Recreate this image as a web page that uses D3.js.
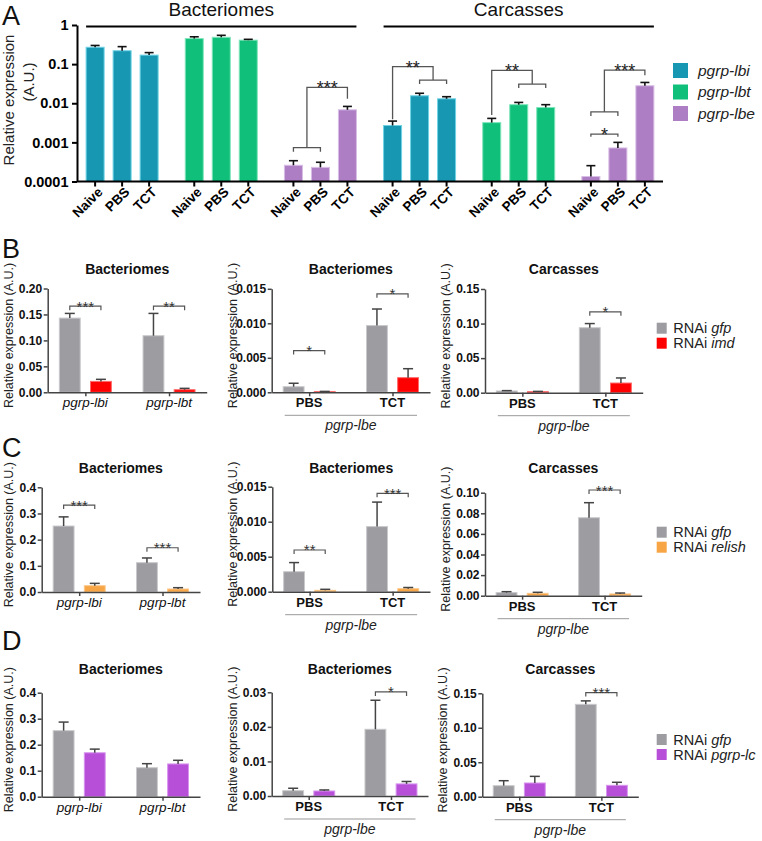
<!DOCTYPE html>
<html><head><meta charset="utf-8">
<script src="https://cdn.jsdelivr.net/npm/d3@7"></script>
<style>
body{margin:0;background:#fff;}
svg{display:block;}
text{font-family:"Liberation Sans",Arial,Helvetica,sans-serif;}
</style>
</head><body>
<svg id="chart" width="762" height="841"></svg>
<script>
// ================= DATA =================
// Panel A
const aTissues = ["Bacteriomes", "Carcasses"];
const aGenes = ["pgrp-lbi", "pgrp-lbt", "pgrp-lbe"];
const aTreatments = ["Naive", "PBS", "TCT"];
const aTicks = [1, 0.1, 0.01, 0.001, 0.0001];
const aTickLabels = ["1", "0.1", "0.01", "0.001", "0.0001"];
const aBactMean = [[0.27, 0.22, 0.17], [0.45, 0.485, 0.41], [0.00026, 0.00023, 0.0068]];
const aBactErr  = [[0.03, 0.06, 0.027], [0.05, 0.06, 0.02], [0.00008, 0.00008, 0.0015]];
const aCarcMean = [[0.0027, 0.0155, 0.013], [0.0032, 0.0092, 0.0078], [0.000134, 0.00072, 0.028]];
const aCarcErr  = [[0.0008, 0.0025, 0.0017], [0.0009, 0.0013, 0.0014], [0.00012, 0.00028, 0.006]];
const aBrackets = [
  {tissue: "Bacteriomes", gene: "pgrp-lbe", left: ["Naive", "PBS"], right: ["TCT"], top: 0.0255, lBot: 0.00073, rBot: 0.013, label: "***"},
  {tissue: "Carcasses", gene: "pgrp-lbi", left: ["Naive"], right: ["PBS", "TCT"], top: 0.086, lBot: 0.0039, rBot: 0.039, label: "**"},
  {tissue: "Carcasses", gene: "pgrp-lbt", left: ["Naive"], right: ["PBS", "TCT"], top: 0.0695, lBot: 0.005, rBot: 0.031, label: "**"},
  {tissue: "Carcasses", gene: "pgrp-lbe", left: ["Naive", "PBS"], right: ["TCT"], top: 0.0706, lBot: 0.006, rBot: 0.052, label: "***"},
  {tissue: "Carcasses", gene: "pgrp-lbe", left: ["Naive"], right: ["PBS"], top: 0.00163, lBot: 0.00139, rBot: 0.00139, label: "*"}
];

// Panels B-D (three sub-panels per row)
const panelTitles = ["Bacteriomes", "Bacteriomes", "Carcasses"];
const panelGroups = [["pgrp-lbi", "pgrp-lbt"], ["PBS", "TCT"], ["PBS", "TCT"]];
const panelSubLabel = [null, "pgrp-lbe", "pgrp-lbe"];
const seriesKeys = ["gfp", "kd"];
const rowLetters = ["B", "C", "D"];
const rowKnockdown = ["imd", "relish", "pgrp-lc"];

const rowBGfp    = [[0.143, 0.109], [0.00081, 0.00967], [0.0025, 0.094]];
const rowBGfpErr = [[0.009, 0.043], [0.0005, 0.0024], [0.0005, 0.006]];
const rowBKd     = [[0.021, 0.005], [0.0001, 0.00212], [0.0015, 0.014]];
const rowBKdErr  = [[0.004, 0.0026], [0.00003, 0.0013], [0.0004, 0.0073]];
const rowBYMax   = [0.20, 0.015, 0.15];
const rowBYStep  = [0.05, 0.005, 0.05];
const rowBDec    = [2, 3, 2];
const rowBSig    = [[{g: "pgrp-lbi", y: 0.166, label: "***"}, {g: "pgrp-lbt", y: 0.166, label: "**"}],
                    [{g: "PBS", y: 0.00604, label: "*"}, {g: "TCT", y: 0.01427, label: "*"}],
                    [{g: "TCT", y: 0.117, label: "*"}]];

const rowCGfp    = [[0.252, 0.112], [0.00286, 0.0093], [0.003, 0.0757]];
const rowCGfpErr = [[0.035, 0.018], [0.0013, 0.0035], [0.0009, 0.0146]];
const rowCKd     = [[0.024, 0.0115], [0.0002, 0.00043], [0.0023, 0.0017]];
const rowCKdErr  = [[0.009, 0.005], [0.00014, 0.00017], [0.001, 0.0009]];
const rowCYMax   = [0.4, 0.015, 0.10];
const rowCYStep  = [0.1, 0.005, 0.02];
const rowCDec    = [1, 3, 2];
const rowCSig    = [[{g: "pgrp-lbi", y: 0.332, label: "***"}, {g: "pgrp-lbt", y: 0.169, label: "***"}],
                    [{g: "PBS", y: 0.00596, label: "**"}, {g: "TCT", y: 0.01406, label: "***"}],
                    [{g: "TCT", y: 0.1026, label: "***"}]];

const rowDGfp    = [[0.254, 0.1115], [0.00154, 0.0193], [0.016, 0.134]];
const rowDGfpErr = [[0.033, 0.0155], [0.0007, 0.0084], [0.0072, 0.005]];
const rowDKd     = [[0.169, 0.126], [0.00145, 0.0035], [0.0199, 0.0165]];
const rowDKdErr  = [[0.014, 0.014], [0.0003, 0.0007], [0.0096, 0.0044]];
const rowDYMax   = [0.4, 0.03, 0.15];
const rowDYStep  = [0.1, 0.01, 0.05];
const rowDDec    = [1, 2, 2];
const rowDSig    = [[], [{g: "TCT", y: 0.0301, label: "*"}], [{g: "TCT", y: 0.151, label: "***"}]];

// ================= STYLE / LAYOUT =================
const svg = d3.select("#chart");
const aColors = {"pgrp-lbi": "#1797b2", "pgrp-lbt": "#10bf7a", "pgrp-lbe": "#ad7ec3"};
const aStrokes = {"pgrp-lbi": "#6fd3e6", "pgrp-lbt": "#7fe6bb", "pgrp-lbe": "#d8bde6"};
const gfpColor = "#9c9ca1", gfpStroke = "#c9c9cc";
const kdColors = ["#ff0000", "#f7a545", "#b84fd9"];
const kdStrokes = ["#ff6a6a", "#fbc88a", "#d896ee"];

// ================= PANEL A =================
(function drawA() {
  const x0 = 77, x1 = 663, yTop = 25, yBot = 181.5;
  const keys = aTissues.flatMap(t => aGenes.map(g => t + "|" + g));
  const xO = d3.scalePoint().domain(keys).range([x0, x1]).padding(0.455);
  const xI = d3.scaleBand().domain(aTreatments).range([-36, 36]).paddingInner(1 / 3);
  const y = d3.scaleLog().domain([0.0001, 1]).range([yBot, yTop]);
  const bw = xI.bandwidth();
  const cx = (t, g, tr) => xO(t + "|" + g) + xI(tr) + bw / 2;

  const data = [];
  aTissues.forEach((t, ti) => {
    const M = ti === 0 ? aBactMean : aCarcMean, E = ti === 0 ? aBactErr : aCarcErr;
    aGenes.forEach((g, gi) => aTreatments.forEach((tr, k) =>
      data.push({t, g, tr, v: M[gi][k], e: E[gi][k]})));
  });

  const g = svg.append("g");
  g.selectAll("rect.abar").data(data).join("rect")
    .attr("x", d => cx(d.t, d.g, d.tr) - bw / 2)
    .attr("y", d => y(d.v))
    .attr("width", bw)
    .attr("height", d => y(0.0001) - y(d.v))
    .attr("fill", d => aColors[d.g])
    .attr("stroke", d => aStrokes[d.g]).attr("stroke-width", 1);
  const eb = g.selectAll("g.aerr").data(data).join("g");
  eb.append("line").attr("x1", d => cx(d.t, d.g, d.tr)).attr("x2", d => cx(d.t, d.g, d.tr))
    .attr("y1", d => y(d.v)).attr("y2", d => y(d.v + d.e)).attr("stroke", "#111").attr("stroke-width", 1.6);
  eb.append("line").attr("x1", d => cx(d.t, d.g, d.tr) - 4.5).attr("x2", d => cx(d.t, d.g, d.tr) + 4.5)
    .attr("y1", d => y(d.v + d.e)).attr("y2", d => y(d.v + d.e)).attr("stroke", "#111").attr("stroke-width", 1.6);

  const ya = g.append("g").attr("transform", `translate(${x0},0)`)
    .call(d3.axisLeft(y).tickValues(aTicks).tickFormat((d, i) => aTickLabels[i]).tickSize(5).tickSizeOuter(0));
  ya.select(".domain").attr("stroke", "#000").attr("stroke-width", 2);
  ya.selectAll(".tick line").attr("stroke", "#000").attr("stroke-width", 2);
  ya.selectAll(".tick text").attr("font-size", 14.5).attr("font-weight", "bold").attr("fill", "#000")
    .attr("font-family", '"Liberation Sans",Arial,sans-serif').attr("x", -8.5);

  g.append("line").attr("x1", x0).attr("x2", x1).attr("y1", yBot).attr("y2", yBot)
    .attr("stroke", "#000").attr("stroke-width", 2);
  g.selectAll("line.axt").data(data).join("line")
    .attr("x1", d => cx(d.t, d.g, d.tr)).attr("x2", d => cx(d.t, d.g, d.tr))
    .attr("y1", yBot).attr("y2", yBot + 5).attr("stroke", "#000").attr("stroke-width", 2);
  g.selectAll("text.axl").data(data).join("text")
    .attr("transform", d => `translate(${cx(d.t, d.g, d.tr) + 5},${yBot + 8}) rotate(-45)`)
    .attr("text-anchor", "end").attr("dy", "0.35em")
    .attr("font-size", 13.5).attr("font-weight", "bold").attr("fill", "#000")
    .text(d => d.tr);

  aTissues.forEach(t => {
    const hx0 = cx(t, aGenes[0], aTreatments[0]) - bw / 2;
    const hx1 = cx(t, aGenes[2], aTreatments[2]) + bw / 2;
    g.append("line").attr("x1", hx0).attr("x2", hx1).attr("y1", 26.5).attr("y2", 26.5)
      .attr("stroke", "#000").attr("stroke-width", 2);
    g.append("text").attr("x", (hx0 + hx1) / 2).attr("y", 16).attr("text-anchor", "middle")
      .attr("font-size", 19).attr("fill", "#111").text(t);
  });

  aBrackets.forEach(b => {
    const endX = cats => d3.mean(cats, c => cx(b.tissue, b.gene, c));
    const lx = endX(b.left), rx = endX(b.right);
    let p = `M${lx},${y(b.lBot)}V${y(b.top)}H${rx}V${y(b.rBot)}`;
    if (b.left.length === 2) {
      const a = cx(b.tissue, b.gene, b.left[0]), c = cx(b.tissue, b.gene, b.left[1]);
      p += `M${a},${y(b.lBot) + 4}V${y(b.lBot)}H${c}V${y(b.lBot) + 4}`;
    }
    if (b.right.length === 2) {
      const a = cx(b.tissue, b.gene, b.right[0]), c = cx(b.tissue, b.gene, b.right[1]);
      p += `M${a},${y(b.rBot) + 4}V${y(b.rBot)}H${c}V${y(b.rBot) + 4}`;
    }
    g.append("path").attr("d", p).attr("fill", "none").attr("stroke", "#555").attr("stroke-width", 1.3);
    g.append("text").attr("x", (lx + rx) / 2).attr("y", y(b.top) + 7).attr("text-anchor", "middle")
      .attr("font-size", 18).attr("fill", "#222").text(b.label);
  });

  g.append("text").attr("transform", "translate(9,100) rotate(-90)").attr("text-anchor", "middle")
    .attr("dy", "0.35em").attr("font-size", 15).attr("fill", "#222").text("Relative expression");
  g.append("text").attr("transform", "translate(29,82) rotate(-90)").attr("text-anchor", "middle")
    .attr("dy", "0.35em").attr("font-size", 15).attr("fill", "#222").text("(A.U.)");

  aGenes.forEach((gn, i) => {
    g.append("rect").attr("x", 673).attr("y", 63 + i * 21.5).attr("width", 15).attr("height", 15)
      .attr("fill", aColors[gn]);
    g.append("text").attr("x", 698).attr("y", 63 + i * 21.5 + 7.5).attr("dy", "0.35em")
      .attr("font-size", 15.5).attr("font-style", "italic").attr("fill", "#222").text(gn);
  });

  svg.append("text").attr("x", 2).attr("y", 25).attr("font-size", 27).attr("fill", "#111").text("A");
})();

// ================= PANELS B-D =================
const rowData = [
  {gfp: rowBGfp, gfpErr: rowBGfpErr, kd: rowBKd, kdErr: rowBKdErr, ymax: rowBYMax, step: rowBYStep, dec: rowBDec, sig: rowBSig},
  {gfp: rowCGfp, gfpErr: rowCGfpErr, kd: rowCKd, kdErr: rowCKdErr, ymax: rowCYMax, step: rowCYStep, dec: rowCDec, sig: rowCSig},
  {gfp: rowDGfp, gfpErr: rowDGfpErr, kd: rowDKd, kdErr: rowDKdErr, ymax: rowDYMax, step: rowDYStep, dec: rowDDec, sig: rowDSig}
];
const rowLayout = [
  {letterY: 257.5, titleY: 274, legendY: 322.7,
   panels: [{x0: 47.7, x1: 206.7, yTop: 288.5, yBot: 392.3, lx: 8.5},
            {x0: 271.7, x1: 430, yTop: 288.8, yBot: 392.3, lx: 233},
            {x0: 485, x1: 642.7, yTop: 289, yBot: 392.7, lx: 446}]},
  {letterY: 456.7, titleY: 473, legendY: 526.7,
   panels: [{x0: 41.7, x1: 200, yTop: 487.3, yBot: 592, lx: 8.5},
            {x0: 272.3, x1: 430, yTop: 486.7, yBot: 591.7, lx: 233},
            {x0: 485, x1: 641.7, yTop: 492.7, yBot: 595.7, lx: 446}]},
  {letterY: 650, titleY: 674, legendY: 734,
   panels: [{x0: 41.7, x1: 200, yTop: 692.7, yBot: 796.7, lx: 8.5},
            {x0: 271.7, x1: 428, yTop: 692.3, yBot: 796, lx: 233},
            {x0: 482.3, x1: 638.3, yTop: 693.3, yBot: 796.7, lx: 443}]}
];

rowData.forEach((rd, ri) => {
  const L = rowLayout[ri];
  const kdColor = kdColors[ri], kdStroke = kdStrokes[ri];
  svg.append("text").attr("x", 2).attr("y", L.letterY).attr("font-size", 27).attr("fill", "#111").text(rowLetters[ri]);

  L.panels.forEach((P, pi) => {
    const g = svg.append("g");
    const groups = panelGroups[pi];
    const xP = d3.scalePoint().domain(groups).range([P.x0, P.x1]).padding(0.45);
    const xI = d3.scaleBand().domain(seriesKeys).range([-26, 26]).paddingInner(0.33);
    const bw = xI.bandwidth();
    const y = d3.scaleLinear().domain([0, rd.ymax[pi]]).range([P.yBot, P.yTop]);
    const cx = (gr, s) => xP(gr) + xI(s) + bw / 2;

    const bars = [];
    groups.forEach((gr, k) => {
      bars.push({gr, s: "gfp", v: rd.gfp[pi][k], e: rd.gfpErr[pi][k]});
      bars.push({gr, s: "kd", v: rd.kd[pi][k], e: rd.kdErr[pi][k]});
    });

    g.selectAll("rect").data(bars).join("rect")
      .attr("x", d => cx(d.gr, d.s) - bw / 2).attr("y", d => y(d.v))
      .attr("width", bw).attr("height", d => y(0) - y(d.v))
      .attr("fill", d => d.s === "gfp" ? gfpColor : kdColor)
      .attr("stroke", d => d.s === "gfp" ? gfpStroke : kdStroke).attr("stroke-width", 1);

    const eb = g.selectAll("g.err").data(bars).join("g");
    eb.append("line").attr("x1", d => cx(d.gr, d.s)).attr("x2", d => cx(d.gr, d.s))
      .attr("y1", d => y(d.v)).attr("y2", d => y(d.v + d.e)).attr("stroke", "#444").attr("stroke-width", 1.5);
    eb.append("line").attr("x1", d => cx(d.gr, d.s) - 5).attr("x2", d => cx(d.gr, d.s) + 5)
      .attr("y1", d => y(d.v + d.e)).attr("y2", d => y(d.v + d.e)).attr("stroke", "#444").attr("stroke-width", 1.5);

    const ticks = d3.range(0, rd.ymax[pi] + rd.step[pi] / 2, rd.step[pi]);
    const ya = g.append("g").attr("transform", `translate(${P.x0},0)`)
      .call(d3.axisLeft(y).tickValues(ticks).tickFormat(d3.format(`.${rd.dec[pi]}f`)).tickSize(4).tickSizeOuter(0));
    ya.select(".domain").attr("stroke", "#444").attr("stroke-width", 1.5);
    ya.selectAll(".tick line").attr("stroke", "#444").attr("stroke-width", 1.5);
    ya.selectAll(".tick text").attr("font-size", 12).attr("font-weight", "bold").attr("fill", "#111")
      .attr("font-family", '"Liberation Sans",Arial,sans-serif').attr("x", -5.5);

    const xa = g.append("g").attr("transform", `translate(0,${P.yBot})`)
      .call(d3.axisBottom(xP).tickSize(4).tickSizeOuter(0).tickFormat(""));
    xa.select(".domain").attr("stroke", "#444").attr("stroke-width", 1.5);
    xa.selectAll(".tick line").attr("stroke", "#444").attr("stroke-width", 1.5);

    const isGene = panelSubLabel[pi] === null;
    g.selectAll("text.xl").data(groups).join("text")
      .attr("x", d => xP(d)).attr("y", P.yBot + 15).attr("text-anchor", "middle")
      .attr("font-size", isGene ? 13.5 : 13).attr("font-style", isGene ? "italic" : "normal")
      .attr("font-weight", isGene ? "normal" : "bold").attr("fill", "#111").text(d => d);

    if (!isGene) {
      const lx0 = xP(groups[0]) - 24.5, lx1 = xP(groups[1]) + 24.5;
      g.append("line").attr("x1", lx0).attr("x2", lx1).attr("y1", P.yBot + 23).attr("y2", P.yBot + 23)
        .attr("stroke", "#999").attr("stroke-width", 1);
      g.append("text").attr("x", (lx0 + lx1) / 2).attr("y", P.yBot + 38).attr("text-anchor", "middle")
        .attr("font-size", 14).attr("font-style", "italic").attr("fill", "#222").text(panelSubLabel[pi]);
    }

    g.append("text").attr("x", (P.x0 + P.x1) / 2).attr("y", L.titleY).attr("text-anchor", "middle")
      .attr("font-size", 14).attr("font-weight", "bold").attr("fill", "#111").text(panelTitles[pi]);

    g.append("text").attr("transform", `translate(${P.lx},${(P.yTop + P.yBot) / 2 - 5}) rotate(-90)`)
      .attr("text-anchor", "middle").attr("dy", "0.35em").attr("font-size", 12.5).attr("fill", "#222")
      .text("Relative expression (A.U.)");

    rd.sig[pi].forEach(s => {
      const a = cx(s.g, "gfp"), b = cx(s.g, "kd"), yy = y(s.y);
      g.append("path").attr("d", `M${a},${yy + 4}V${yy}H${b}V${yy + 4}`)
        .attr("fill", "none").attr("stroke", "#555").attr("stroke-width", 1.2);
      g.append("text").attr("x", (a + b) / 2).attr("y", yy + 5.5).attr("text-anchor", "middle")
        .attr("font-size", 15).attr("fill", "#333").text(s.label);
    });
  });

  const lg = svg.append("g");
  [["gfp", gfpColor], [rowKnockdown[ri], kdColor]].forEach(([name, col], i) => {
    const yy = L.legendY + i * 15;
    lg.append("rect").attr("x", 656.7).attr("y", yy).attr("width", 10).attr("height", 11).attr("fill", col);
    const t = lg.append("text").attr("x", 673.3).attr("y", yy + 5.5).attr("dy", "0.35em")
      .attr("font-size", 14.5).attr("fill", "#222");
    t.append("tspan").text("RNAi ");
    t.append("tspan").attr("font-style", "italic").text(name);
  });
});
</script>
</body></html>
